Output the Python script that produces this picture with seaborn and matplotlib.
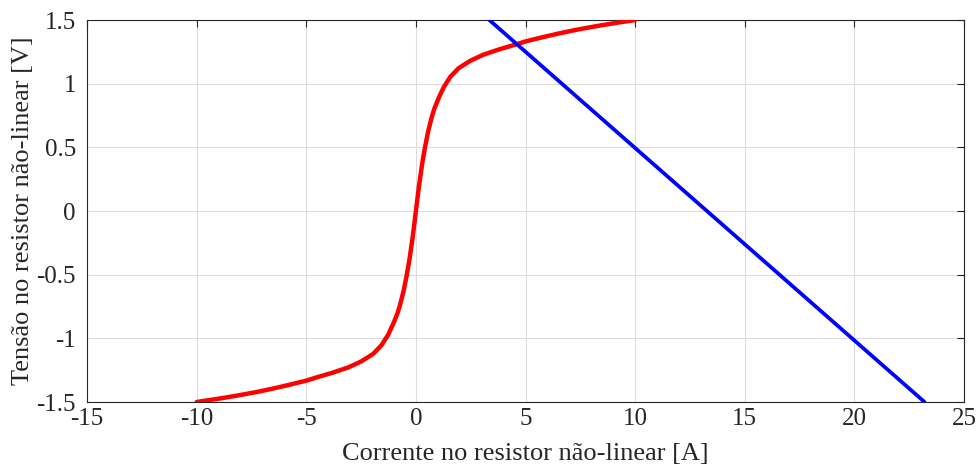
import matplotlib
matplotlib.use("Agg")
import matplotlib.pyplot as plt
import seaborn as sns
import pandas as pd

# curva do resistor nao-linear
corrente_nl = [-10.0, -8.82, -8.07, -7.31, -6.56, -5.8, -5.0, -4.5, -3.84, -3.08, -2.48, -1.95, -1.57, -1.27, -1.04,
               -0.85, -0.74, -0.56, -0.41, -0.29, -0.14,
               0.0, 0.14, 0.29, 0.41, 0.56, 0.74, 0.85, 1.04, 1.27, 1.57, 1.95, 2.48, 3.08, 3.84, 4.5, 5.0,
               5.8, 6.56, 7.31, 8.07, 8.82, 10.0]
tensao_nl = [-1.5, -1.469, -1.447, -1.423, -1.396, -1.366, -1.332, -1.305, -1.272, -1.228, -1.18, -1.122, -1.054,
             -0.973, -0.888, -0.808, -0.748, -0.627, -0.496, -0.376, -0.196,
             0.0, 0.196, 0.376, 0.496, 0.627, 0.748, 0.808, 0.888, 0.973, 1.054, 1.122, 1.18, 1.228, 1.272, 1.305,
             1.332, 1.366, 1.396, 1.423, 1.447, 1.469, 1.5]

# reta de carga
corrente_reta = [3.35, 23.2]
tensao_reta = [1.5, -1.5]

xticks = [-15, -10, -5, 0, 5, 10, 15, 20, 25]
yticks = [-1.5, -1, -0.5, 0, 0.5, 1, 1.5]
ytick_labels = ["-1.5", "-1", "-0.5", "0", "0.5", "1", "1.5"]

sns.set_style("white")
plt.rcParams['font.family'] = ['Liberation Serif', 'DejaVu Serif']

fig = plt.figure(figsize=(9.78, 4.68), dpi=100)
ax = fig.add_axes([0.089, 0.141, 0.8967, 0.8162])

df_nl = pd.DataFrame({'I': corrente_nl, 'V': tensao_nl})
df_reta = pd.DataFrame({'I': corrente_reta, 'V': tensao_reta})

sns.lineplot(data=df_nl, x='I', y='V', sort=False, estimator=None, color='#ff0000', linewidth=3.2,
             solid_joinstyle='round', ax=ax, zorder=3)
sns.lineplot(data=df_reta, x='I', y='V', sort=False, estimator=None, color='#0000ff', linewidth=2.7, ax=ax, zorder=3)

ax.set_xlim(-15, 25)
ax.set_ylim(-1.5, 1.5)
ax.set_xticks(xticks)
ax.set_xticklabels([str(t) for t in xticks])
ax.set_yticks(yticks)
ax.set_yticklabels(ytick_labels)

ax.grid(True, color='#dcdcdc', linewidth=0.8)
ax.set_axisbelow(True)
for s in ax.spines.values():
    s.set_color('#262626')
    s.set_linewidth(0.8)
    s.set_visible(True)
ax.tick_params(direction='in', length=5, width=0.8, color='#262626', labelsize=18,
               labelcolor='#262626', top=True, right=True)
ax.tick_params(axis='x', pad=4)
ax.tick_params(axis='y', pad=8)

ax.set_xlabel('Corrente no resistor não-linear [A]', fontsize=19, color='#262626', labelpad=10)
ax.set_ylabel('Tensão no resistor não-linear [V]', fontsize=19, color='#262626', labelpad=2)

fig.savefig('out.png', dpi=100)
